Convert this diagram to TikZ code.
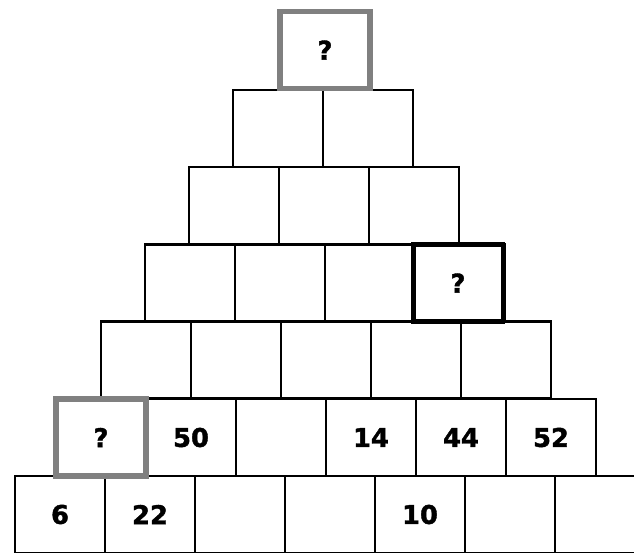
\documentclass[tikz,border=0pt]{standalone}
\usepackage{fontspec}
\setmainfont{DejaVu Sans}
\newfontfamily\heavyfont{DejaVu Sans}[BoldFeatures={FakeBold=1.5}]
\usetikzlibrary{positioning}

\begin{document}
\begin{tikzpicture}[x=0.03cm,y=-0.03cm,
  every node/.style={draw,line width=2pt,minimum width=2.7cm,minimum height=2.31cm,inner sep=0pt,font=\fontsize{22}{26}\heavyfont\bfseries},
  grayq/.style={draw=black!50,line width=5pt},
  darkq/.style={line width=3.6pt}]
\useasboundingbox (0,0) rectangle (634,553);
% empty rows
\foreach \r/\x/\y in {5/56/360,4/100/283,3/144/205.5,2/188/128.5} {
  \foreach \c in {1,...,\r} {\node (r\r c\c) at (\x+90*\c,\y) {};}
}
% bottom rows
\foreach \c/\t in {1/6,2/22,3/{},4/{},5/10,6/{},7/{}} {\node (r7c\c) at (-30+90*\c,514.5) {\t};}
\foreach \c/\t in {2/50,3/{},4/14,5/44,6/52} {\node (r6c\c) at (11+90*\c,437.5) {\t};}
% question cells
\node[grayq] (r6c1) at (101,437.5) {?};
\node[darkq] (r4c4) at (458,283) {?};
\node[grayq] (r1c1) at (325,50) {?};
\end{tikzpicture}
\end{document}
